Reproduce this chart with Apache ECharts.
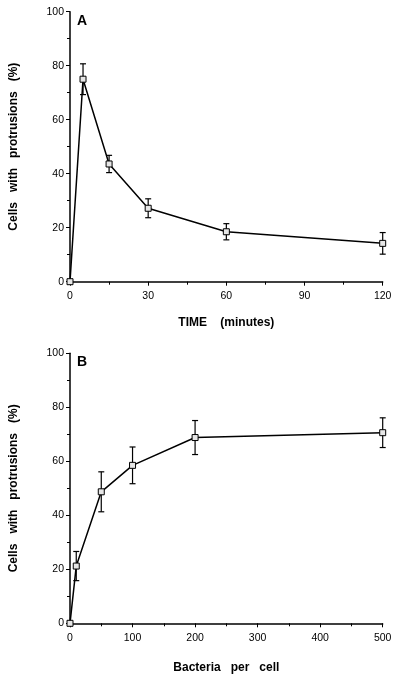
<!DOCTYPE html>
<html>
<head>
<meta charset="utf-8">
<script src="https://cdn.jsdelivr.net/npm/echarts@6/dist/echarts.min.js"></script>
<style>
html,body{margin:0;padding:0;background:#fff;}
#chart{width:402px;height:678px;}
</style>
</head>
<body>
<div id="chart"></div>
<script>
// Panel A
var timeX = [0, 5, 15, 30, 60, 120];
var timeY = [0, 75, 43.6, 27.2, 18.5, 14.2];
var timeErr = [0, 5.7, 3.2, 3.5, 3.0, 4.0];
// Panel B
var bactX = [0, 10, 50, 100, 200, 500];
var bactY = [0, 21.2, 48.7, 58.5, 68.8, 70.6];
var bactErr = [0, 5.4, 7.4, 6.8, 6.3, 5.5];

var yTicks = [0, 20, 40, 60, 80, 100];
var timeTicks = [0, 30, 60, 90, 120];
var bactTicks = [0, 100, 200, 300, 400, 500];

var FONT = '"Liberation Sans", Arial, sans-serif';

function pairs(xs, ys){ return xs.map(function(x,i){ return [x, ys[i]]; }); }
function errData(xs, ys, es){ return xs.map(function(x,i){ return [x, ys[i]-es[i], ys[i]+es[i]]; }); }

function errRender(params, api){
  if (api.value(2) - api.value(1) <= 0) return null;
  var lo = api.coord([api.value(0), api.value(1)]);
  var hi = api.coord([api.value(0), api.value(2)]);
  var w = 3;
  var st = {stroke:'#000', lineWidth:1.2};
  return {type:'group', children:[
    {type:'line', shape:{x1:lo[0], y1:lo[1], x2:hi[0], y2:hi[1]}, style:st},
    {type:'line', shape:{x1:lo[0]-w, y1:lo[1], x2:lo[0]+w, y2:lo[1]}, style:st},
    {type:'line', shape:{x1:hi[0]-w, y1:hi[1], x2:hi[0]+w, y2:hi[1]}, style:st}
  ]};
}

function yAxis(gi){
  return {
    type:'value', gridIndex:gi, min:0, max:100, interval:20,
    name:'Cells   with   protrusions   (%)', nameLocation:'middle', nameGap:50,
    nameTextStyle:{fontFamily:FONT, fontWeight:'bold', fontSize:12, color:'#000'},
    axisLine:{show:true, lineStyle:{color:'#000', width:1.5}},
    axisTick:{show:true, length:4, lineStyle:{color:'#000', width:1}},
    minorTick:{show:true, splitNumber:2, length:3, lineStyle:{color:'#000', width:1}},
    splitLine:{show:false},
    axisLabel:{fontFamily:FONT, fontSize:10.5, color:'#000', margin:6}
  };
}
function xAxis(gi, max, interval, name, gap){
  return {
    type:'value', gridIndex:gi, min:0, max:max, interval:interval,
    name:name, nameLocation:'middle', nameGap:gap,
    nameTextStyle:{fontFamily:FONT, fontWeight:'bold', fontSize:12, color:'#000'},
    axisLine:{show:true, lineStyle:{color:'#000', width:1.5}},
    axisTick:{show:true, length:4, lineStyle:{color:'#000', width:1}},
    minorTick:{show:true, splitNumber:2, length:3, lineStyle:{color:'#000', width:1}},
    splitLine:{show:false},
    axisLabel:{fontFamily:FONT, fontSize:10.5, color:'#000', margin:9}
  };
}

var lineStyleCommon = {color:'#000', width:1.5};
var itemStyleCommon = {color:'#e6e6e6', borderColor:'#000', borderWidth:1};

var chart = echarts.init(document.getElementById('chart'), null, {renderer:'canvas'});
chart.setOption({
  animation:false,
  backgroundColor:'#fff',
  grid:[
    {left:70, top:11.7, width:312.7, height:270},
    {left:70, top:353.3, width:312.7, height:270}
  ],
  xAxis:[ xAxis(0, 120, 30, 'TIME    (minutes)', 35), xAxis(1, 500, 100, 'Bacteria   per   cell', 38) ],
  yAxis:[ yAxis(0), yAxis(1) ],
  graphic:[
    {type:'text', left:77, top:14, style:{text:'A', font:'bold 14px ' + FONT, fill:'#000'}},
    {type:'text', left:77, top:355, style:{text:'B', font:'bold 14px ' + FONT, fill:'#000'}}
  ],
  series:[
    {type:'custom', xAxisIndex:0, yAxisIndex:0, renderItem:errRender, data:errData(timeX,timeY,timeErr), z:3},
    {type:'line', xAxisIndex:0, yAxisIndex:0, data:pairs(timeX,timeY), symbol:'rect', symbolSize:6,
     lineStyle:lineStyleCommon, itemStyle:itemStyleCommon, z:4},
    {type:'custom', xAxisIndex:1, yAxisIndex:1, renderItem:errRender, data:errData(bactX,bactY,bactErr), z:3},
    {type:'line', xAxisIndex:1, yAxisIndex:1, data:pairs(bactX,bactY), symbol:'rect', symbolSize:6,
     lineStyle:lineStyleCommon, itemStyle:itemStyleCommon, z:4}
  ]
});
</script>
</body>
</html>
